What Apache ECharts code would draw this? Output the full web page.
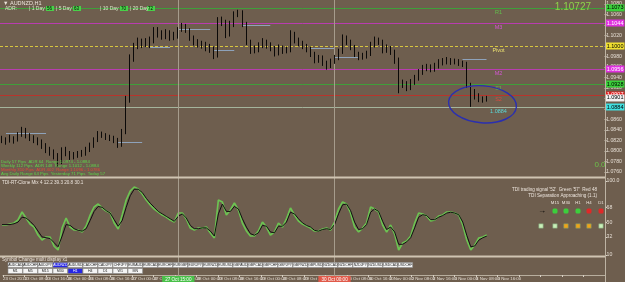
<!DOCTYPE html>
<html><head><meta charset="utf-8">
<script src="https://cdn.jsdelivr.net/npm/echarts@6/dist/echarts.min.js"></script>
<style>html,body{margin:0;padding:0;background:#6e5e4e;}#c{width:625px;height:282px;}</style>
</head><body><div id="c"></div>
<script>
// ---------- DATA ----------
const firstOpen = 1.0823;
const closes = [1.0821,1.0819,1.0825,1.0821,1.0831,1.0840,1.0829,1.0825,1.0821,1.0817,
1.0810,1.0802,1.0798,1.0791,1.0779,1.0802,1.0796,1.0789,1.0792,1.0794,
1.0796,1.0802,1.0811,1.0821,1.0832,1.0831,1.0827,1.0825,1.0821,1.0811,
1.0836,1.0897,1.0977,1.1000,1.1008,1.1004,1.1008,1.1011,1.1031,1.1023,
1.1019,1.1025,1.1017,1.1019,1.1031,1.1038,1.1031,1.1015,1.1008,1.1004,
1.1002,1.0998,1.0994,1.0981,1.1050,1.1046,1.1021,1.1042,1.1061,1.1065,
1.1042,1.1008,1.0992,1.0994,1.1000,1.1008,1.1002,1.0996,1.0987,1.0996,
1.0992,1.0992,1.1023,1.1011,1.1006,1.1000,1.0994,1.0985,1.0973,1.0977,
1.0968,1.0962,1.0970,1.0977,1.0989,1.1015,1.1008,1.0998,1.0985,1.0979,
1.0981,1.0985,1.1002,1.1011,1.1008,1.0992,1.0996,1.0989,1.0973,1.0926,
1.0928,1.0920,1.0931,1.0939,1.0950,1.0958,1.0960,1.0956,1.0962,1.0968,
1.0970,1.0973,1.0970,1.0971,1.0968,1.0966,1.0926,1.0912,1.0905,1.0899,
1.0897,1.0901];
const highs = [1.0829,1.0826,1.0831,1.0828,1.0836,1.0846,1.0844,1.0834,1.0830,1.0826,
1.0822,1.0815,1.0808,1.0803,1.0796,1.0807,1.0808,1.0800,1.0798,1.0800,
1.0802,1.0808,1.0816,1.0826,1.0838,1.0837,1.0834,1.0831,1.0829,1.0825,
1.0842,1.0905,1.0984,1.1006,1.1016,1.1014,1.1015,1.1018,1.1036,1.1036,
1.1030,1.1032,1.1030,1.1027,1.1036,1.1044,1.1042,1.1034,1.1020,1.1013,
1.1010,1.1008,1.1004,1.0999,1.1055,1.1056,1.1050,1.1048,1.1066,1.1069,
1.1068,1.1046,1.1012,1.1001,1.1007,1.1015,1.1012,1.1007,1.1000,1.1003,
1.1001,1.0999,1.1030,1.1027,1.1016,1.1010,1.1004,1.0999,1.0989,1.0983,
1.0982,1.0972,1.0976,1.0983,1.0995,1.1022,1.1020,1.1012,1.1002,1.0989,
1.0987,1.0991,1.1008,1.1018,1.1016,1.1012,1.1003,1.1000,1.0993,1.0978,
1.0936,1.0933,1.0937,1.0945,1.0956,1.0964,1.0966,1.0965,1.0968,1.0975,
1.0977,1.0979,1.0977,1.0976,1.0975,1.0972,1.0970,1.0930,1.0918,1.0910,
1.0904,1.0905];
const lows = [1.0815,1.0812,1.0816,1.0814,1.0818,1.0827,1.0824,1.0819,1.0815,1.0811,
1.0804,1.0796,1.0791,1.0784,1.0770,1.0775,1.0790,1.0783,1.0784,1.0787,
1.0789,1.0791,1.0798,1.0806,1.0817,1.0825,1.0821,1.0819,1.0815,1.0806,
1.0808,1.0832,1.0892,1.0970,1.0994,1.0996,1.0998,1.0996,1.1005,1.1016,
1.1012,1.1013,1.1010,1.1011,1.1014,1.1027,1.1025,1.1010,1.1001,1.0997,
1.0995,1.0990,1.0987,1.0975,1.0978,1.1038,1.1015,1.1018,1.1036,1.1055,
1.1036,1.1002,1.0985,1.0986,1.0988,1.0996,1.0995,1.0990,1.0980,1.0982,
1.0985,1.0986,1.0988,1.1005,1.1000,1.0994,1.0988,1.0979,1.0967,1.0968,
1.0962,1.0955,1.0958,1.0966,1.0973,1.0985,1.1002,1.0992,1.0979,1.0973,
1.0974,1.0976,1.0981,1.0997,1.1002,1.0986,1.0987,1.0983,1.0966,1.0910,
1.0920,1.0914,1.0916,1.0926,1.0934,1.0945,1.0952,1.0950,1.0951,1.0957,
1.0963,1.0965,1.0964,1.0965,1.0962,1.0960,1.0920,1.0884,1.0898,1.0893,
1.0892,1.0894];
const tdiGreen = [46.5,46.5,47.7,48.9,52.6,62.3,55.0,47.7,44.0,34.3,
28.2,31.9,31.9,20.9,16.1,42.8,55.0,44.0,40.4,40.4,
38.0,45.3,58.6,68.4,72.0,67.2,63.5,61.1,48.9,41.6,
58.6,76.9,87.8,92.7,90.3,84.2,76.9,70.8,65.9,62.3,
58.6,56.2,52.6,50.1,61.1,61.1,53.8,42.8,40.4,42.8,
42.8,44.0,36.7,30.7,76.9,74.5,58.6,64.7,73.2,64.7,
48.9,39.2,33.1,33.1,39.2,50.1,44.0,34.3,38.0,48.9,
44.0,53.8,67.2,58.6,51.3,47.7,45.3,42.8,39.2,39.2,
41.6,42.8,40.4,50.1,65.9,74.5,72.0,61.1,44.0,38.0,
42.8,48.9,68.4,65.9,62.3,46.5,38.0,46.5,35.5,16.1,
24.6,27.0,33.1,48.9,61.1,59.9,57.4,51.3,52.6,57.4,
58.6,62.3,62.3,61.1,58.6,46.5,28.2,16.1,22.1,30.7,
31.9,34.3];
const tdiSignal = [47,47,47,48,50,56,55,51,46,39,
32,31,30,25,20,33,47,46,42,40,
39,42,52,63,69,68,64,61,53,45,
52,68,82,90,90,86,79,73,68,63,
60,57,54,51,57,60,55,46,42,42,
43,43,39,33,60,72,63,63,69,66,
54,44,36,34,37,46,45,38,37,45,
45,50,62,60,54,49,46,44,40,39,
41,42,41,47,60,71,72,64,50,41,
42,47,62,66,63,51,41,44,38,23,
23,26,31,43,56,59,58,53,53,56,
58,61,62,61,59,50,34,20,21,28,
31,33];
const levelNames  = ['R1','M3','Pivot','M2','S1','S2','1.0884'];
const levelValues = [1.10727,1.10438,1.1000,1.09562,1.09276,1.09067,1.08838];
const currentPrice = 1.0901;
const bigPriceText = '1.10727';
const priceMin = 1.0760, priceMax = 1.1080, priceStep = 0.002;
const tdiTicks = [10,32,50,68,100];
const segments = [[1,11,1.0834],[29,35,1.0817],[37,42,1.0998],[44,52,1.1032],[53,58,1.0992],[60,67,1.1040],[77,83,1.0996],[83,89,1.0979],[115,121,1.0975]];
const vlineBars = [44,83];
const vlineLabels = ['27 Oct 15:00','30 Oct 00:00'];
const timeLabels = ['23 Oct 2015','23 Oct 08:00','23 Oct 16:00','26 Oct 00:00','26 Oct 08:00','26 Oct 16:00',
'27 Oct 00:00','27 Oct 08:00','27 Oct 16:00','28 Oct 00:00','28 Oct 08:00','28 Oct 16:00',
'29 Oct 00:00','29 Oct 08:00','29 Oct 16:00','30 Oct 00:00','30 Oct 08:00','30 Oct 16:00',
'2 Nov 00:00','2 Nov 08:00','2 Nov 16:00','3 Nov 00:00','3 Nov 08:00','3 Nov 16:00'];
const symbols = ['AUDCAD','AUDCHF','AUDJPY','AUDNZD','AUDUSD','CADCHF','CADJPY','CHFJPY','EURAUD','EURCAD','EURCHF','EURGBP','EURJPY','EURNZD','EURUSD','GBPAUD','GBPCAD','GBPCHF','GBPJPY','GBPNZD','GBPUSD','NZDCAD','NZDCHF','NZDJPY','NZDUSD','USDCAD','USDCHF'];
const periods = ['M1','M5','M15','M30','H1','H4','D1','W1','MN'];
const activeSymbol = 'AUDNZD', activePeriod = 'H1';
const sigHeads = ['M15','M30','H1','H4','D1'];
const ellipseAnchor = [120, 1.0889];

// ---------- STYLE ----------
const FONT = 'Liberation Sans, DejaVu Sans, sans-serif';
const BG = '#6e5e4e';
const levelLineColors = ['#3f9f3a','#b83cb0','#d8c640','#b83cb0','#3f9f3a','#b8342c','#a4b49c'];
const levelNameColors = ['#62c04c','#d656d6','#ece070','#d656d6','#62c04c','#d84a40','#5ad8d8'];
const levelBoxColors  = ['#3ad03a','#e030e0','#f0e030','#e030e0','#3ad03a','#e02020','#40e0e0'];
const levelBoxText    = ['#000','#fff','#000','#fff','#000','#fff','#000'];
const NSLOT = 151;
const slots = Array.from({length:NSLOT},(_,i)=>String(i));
const ohlc = closes.map((c,i)=>[i?closes[i-1]:firstOpen, c, lows[i], highs[i]]);

const axisBox = (v,bg,fg)=>({show:true, position:'end', distance:1, formatter:v.toFixed(4), backgroundColor:bg, color:fg, fontSize:5.5, padding:[1,1,0,1], fontFamily:FONT});
const levelSeries = levelValues.map((v,i)=>({
  type:'line', xAxisIndex:0, yAxisIndex:0, data:[], z:2,
  markLine:{silent:true, precision:6, symbol:['none','none'],
    lineStyle:{color:levelLineColors[i], type:i===2?[3,2]:'solid', width:1},
    label:axisBox(v,levelBoxColors[i],levelBoxText[i]),
    data:[{yAxis:v}]},
  markPoint:{silent:true, symbol:'circle', symbolSize:1, itemStyle:{color:'rgba(0,0,0,0)'},
    label:{show:true, position:'bottom', distance:1, fontSize:5.5, fontFamily:FONT, color:levelNameColors[i], formatter:levelNames[i]},
    data:[{coord:[124,v]}]}
}));
const curSeries = {type:'line', xAxisIndex:0, yAxisIndex:0, data:[], z:3,
  markLine:{silent:true, precision:6, symbol:['none','none'], lineStyle:{color:'rgba(0,0,0,0)', width:1}, label:axisBox(currentPrice,'#f2f2f2','#000'), data:[{yAxis:currentPrice}]}};
const segSeries = {type:'line', xAxisIndex:0, yAxisIndex:0, data:[], z:2,
  markLine:{silent:true, precision:6, symbol:['none','none'], lineStyle:{color:'#8ea2ba', width:1, type:'solid'}, label:{show:false},
    data:segments.map(s=>[{coord:[s[0],s[2]]},{coord:[s[1],s[2]]}])}};

const chart = echarts.init(document.getElementById('c'));
const texts = [];
function T(x,y,text,st){texts.push({type:'text',x:x,y:y,silent:true,z:50,style:Object.assign({text:text,fontFamily:FONT,fontSize:6,fill:'#ece4dc',align:'left',verticalAlign:'middle'},st||{})});}
function R(x,y,w,h,fill,stroke,r){texts.push({type:'rect',silent:true,z:49,shape:{x:x,y:y,width:w,height:h,r:r||0},style:{fill:fill,stroke:stroke||null,lineWidth:0.6}});}

R(0,176.5,605,2,'#cfc4b2');
R(0,255.5,605,2,'#cfc4b2');
texts.push({type:'line',silent:true,z:48,shape:{x1:605.5,y1:0,x2:605.5,y2:282},style:{stroke:'#bdb3a3',lineWidth:1}});
T(3,3,'\u25BC AUDNZD,H1',{fontSize:5.5});
T(5,8.5,'ADR:',{fontSize:5,fill:'#d8e8c8'});
T(29,8.5,'| 1 Day',{fontSize:5,fill:'#d8e8c8'}); R(46,6,8,5,'#48d048'); T(47,8.5,'56',{fontSize:4.5,fill:'#000'});
T(56,8.5,'| 5 Day',{fontSize:5,fill:'#d8e8c8'}); R(73,6,8,5,'#48d048'); T(74,8.5,'63',{fontSize:4.5,fill:'#000'});
T(100,8.5,'| 10 Day',{fontSize:5,fill:'#d8e8c8'}); R(120,6,8,5,'#48d048'); T(121,8.5,'70',{fontSize:4.5,fill:'#000'});
T(130,8.5,'| 20 Day',{fontSize:5,fill:'#d8e8c8'}); R(147,6,8,5,'#48d048'); T(148,8.5,'72',{fontSize:4.5,fill:'#000'});
T(591,7,bigPriceText,{fontSize:10,fill:'#8ed24a',align:'right'});
T(600,165,'0.0',{fontSize:8,fill:'#6cc24a',align:'center'});
T(1,162,'Daily 57 Pips  ADR 64  Range 1.0974 - 1.0884',{fontSize:4.3,fill:'#5ed24a'});
T(1,166,'Weekly 112 Pips  ADR 148  Range 1.1012 - 1.0884',{fontSize:4.3,fill:'#5ed24a'});
T(1,170,'Monthly 310 Pips  ADR 402  Range 1.1096 - 1.0786',{fontSize:4.3,fill:'#e04a3a'});
T(1,174,'Avg Daily Range 64 Pips  Yesterday 71 Pips  Today 57',{fontSize:4.3,fill:'#5ed24a'});
T(2,182.5,'TDI-RT-Clone Mix 4 12.2 39.3 20.8 30.1',{fontSize:4.6});
T(597,190,"TDI trading signal '52'  Green '57'  Red 48",{fontSize:4.6,align:'right'});
T(597,195.5,'TDI Separation Approaching (1.1)',{fontSize:4.6,align:'right'});
const sigX = [555,566,578,589,601];
sigHeads.forEach((h,i)=>T(sigX[i],203,h,{fontSize:4.3,align:'center'}));
T(542,211,'\u2192',{fontSize:8,fill:'#000',align:'center',fontWeight:'bold'});
const row1 = ['#3ccf3c','#3ccf3c','#3ccf3c','#e02828','#e02828'];
sigX.forEach((x,i)=>R(x-2.5,208.5,5,5,row1[i],null,1.5));
const row2x = [541,555,566,578,589,601];
const row2 = ['#c8f0b8','#c8f0b8','#f0a418','#f0a418','#f0a418','#c8f0b8'];
row2x.forEach((x,i)=>R(x-2.2,223.8,4.4,4.4,row2[i],'#7a9a70'));
T(2,259.5,'Symbol Change multi display x1',{fontSize:4.6});
symbols.forEach((s,i)=>{const act=s===activeSymbol; R(8+i*15,262.5,14.6,5,act?'#2626e6':'#f4f4f4','#8a8a8a'); T(8+i*15+7.3,265,s,{fontSize:3.4,fill:act?'#fff':'#222',align:'center'});});
periods.forEach((s,i)=>{const act=s===activePeriod; R(8+i*15,268.5,14.6,5,act?'#2626e6':'#f4f4f4','#8a8a8a'); T(8+i*15+7.3,271,s,{fontSize:3.6,fill:act?'#fff':'#222',align:'center'});});

const timeCats = timeLabels.concat(Array(29-timeLabels.length).fill(''));

const option = {
  animation:false,
  backgroundColor:BG,
  textStyle:{fontFamily:FONT},
  grid:[
    {left:0,right:20,top:4,height:168},
    {left:0,right:20,top:181,height:74},
    {left:0,right:20,top:274,height:1},
    {left:0,right:20,top:0,height:276}
  ],
  xAxis:[
    {gridIndex:0,type:'category',data:slots,show:false},
    {gridIndex:1,type:'category',data:slots,show:false},
    {gridIndex:2,type:'category',data:timeCats,boundaryGap:false,
      axisLine:{show:true,lineStyle:{color:'#b8ae9e'}},
      axisTick:{show:true,length:2,interval:0,lineStyle:{color:'#d8d0c4'}},
      axisLabel:{interval:0,align:'left',fontSize:4.4,color:'#e4dcd2',margin:2,showMaxLabel:true}},
    {gridIndex:3,type:'category',data:slots,show:false}
  ],
  yAxis:[
    {gridIndex:0,type:'value',position:'right',min:priceMin,max:priceMax,interval:priceStep,
      axisLine:{show:false},splitLine:{show:false},
      axisTick:{show:true,length:2,lineStyle:{color:'#d8d0c4'}},
      axisLabel:{fontSize:5.2,color:'#e4dcd2',margin:1.5,formatter:v=>v.toFixed(4)}},
    {gridIndex:1,type:'value',position:'right',min:10,max:100,
      axisLine:{show:false},splitLine:{show:false},
      axisTick:{show:true,length:2,customValues:tdiTicks,lineStyle:{color:'#d8d0c4'}},
      axisLabel:{fontSize:5.2,color:'#e4dcd2',margin:1.5,customValues:tdiTicks,formatter:v=>v===100?'100.0':String(v)}},
    {gridIndex:2,type:'value',show:false},
    {gridIndex:3,type:'value',show:false,min:0,max:1}
  ],
  series:[
    {type:'candlestick',xAxisIndex:0,yAxisIndex:0,data:ohlc,barWidth:1,z:5,
      itemStyle:{color:'#000',color0:'#000',borderColor:'#000',borderColor0:'#000',borderWidth:0.9}},
    ...levelSeries, curSeries, segSeries,
    {type:'line',xAxisIndex:1,yAxisIndex:1,data:tdiGreen,showSymbol:false,lineStyle:{color:'#6cc452',width:1.7},z:3},
    {type:'line',xAxisIndex:1,yAxisIndex:1,data:tdiSignal,showSymbol:false,lineStyle:{color:'#101010',width:1},z:4},
    {type:'line',xAxisIndex:3,yAxisIndex:3,data:[],
      markLine:{silent:true,symbol:['none','none'],
        lineStyle:{color:'#a69c8c',width:1,type:'solid'},
        data:vlineBars.map((b,i)=>({xAxis:b,label:{show:true,position:'start',distance:0,formatter:vlineLabels[i],
          backgroundColor:i===0?'#48c048':'#e05a4a',color:'#fff',fontSize:4.6,padding:[1,3,0,3]}}))}}
  ],
  graphic:texts
};
chart.setOption(option);
const c = chart.convertToPixel({xAxisIndex:0,yAxisIndex:0}, ellipseAnchor);
texts.push({type:'ellipse',silent:true,z:60,rotation:-0.08,originX:c[0],originY:c[1],shape:{cx:c[0],cy:c[1],rx:34,ry:18.5},style:{fill:null,stroke:'#2a2fb0',lineWidth:1.4}});
chart.setOption({graphic:texts});
</script>
</body></html>
